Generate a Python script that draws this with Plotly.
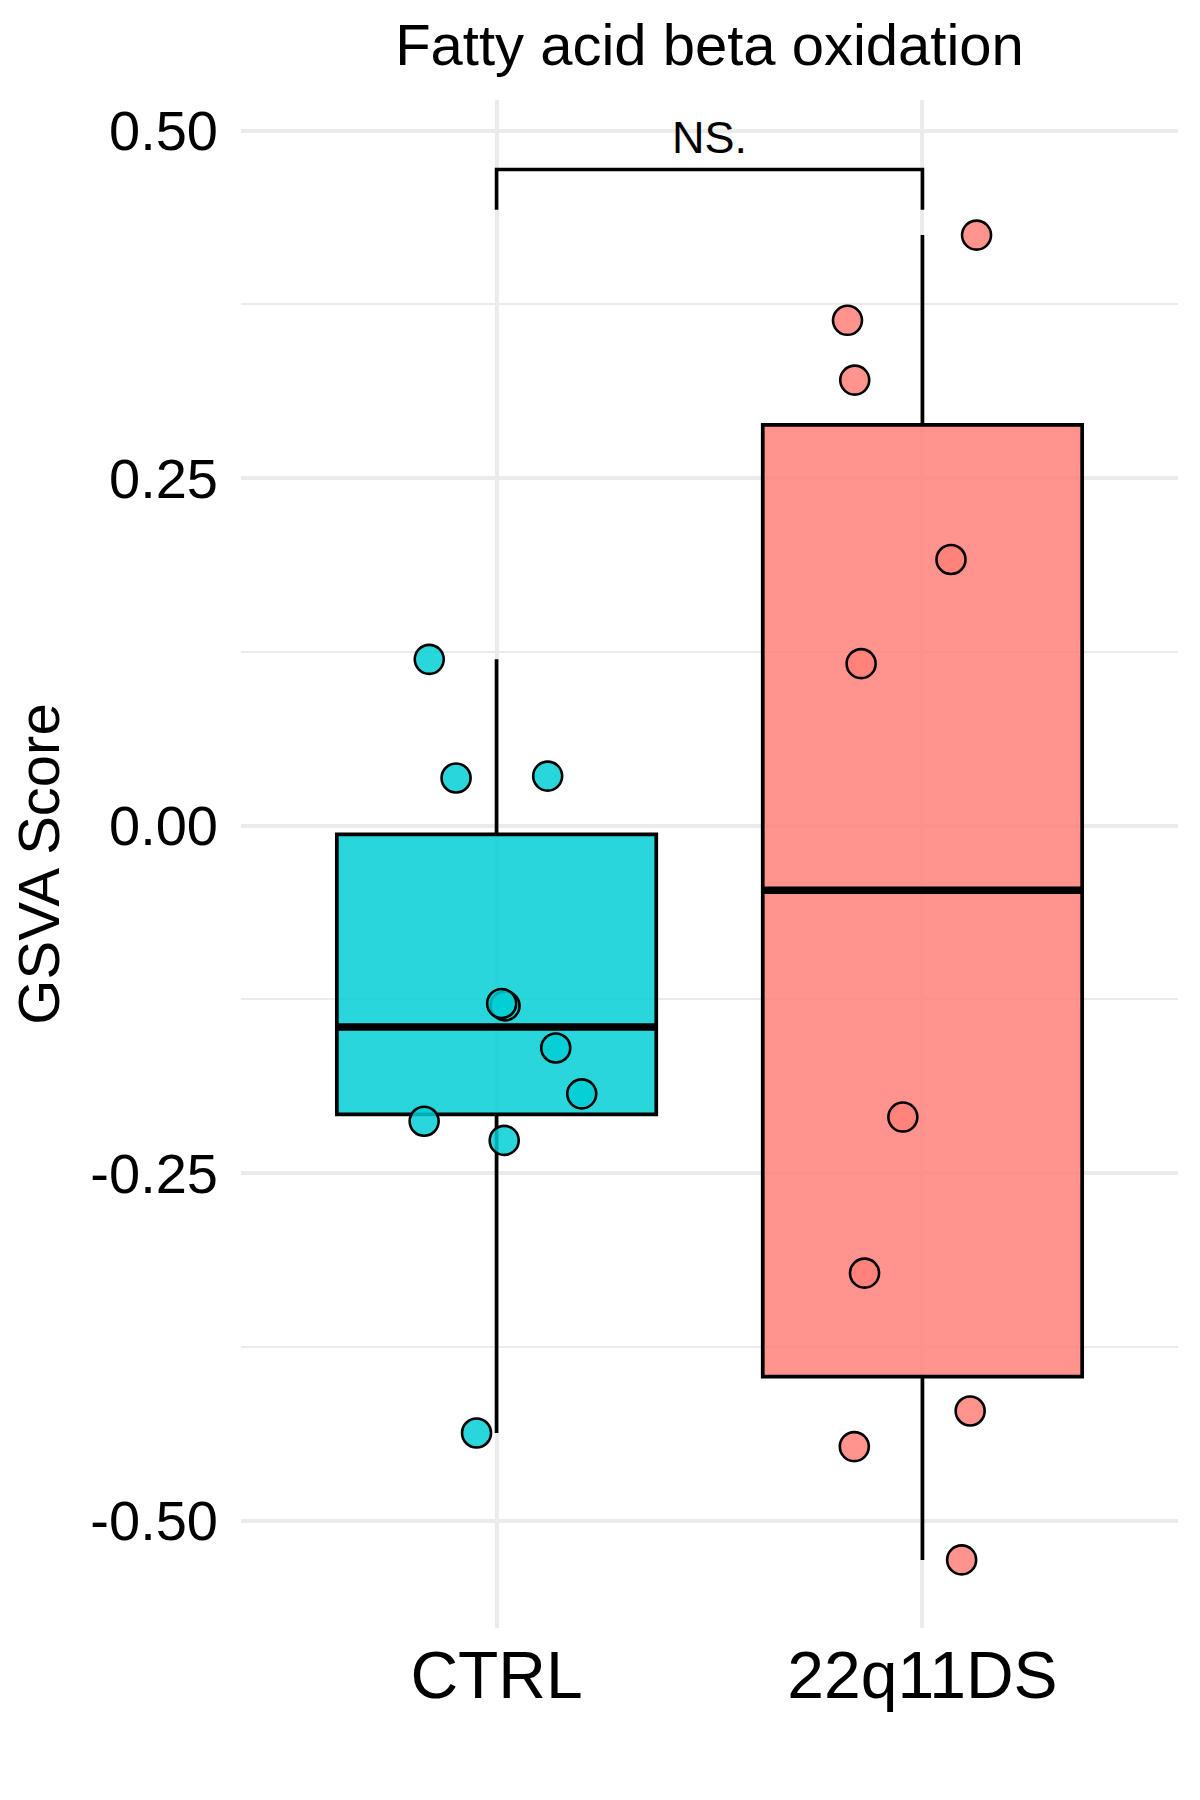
import numpy as np
import plotly.graph_objects as go

# ---- data ----
groups = ["CTRL", "22q11DS"]
group_pos = [1, 2]
ctrl_scores = [0.1196, 0.0342, 0.0356, -0.1297, -0.1280, -0.1600, -0.1930, -0.2127, -0.2265, -0.4370]
ctrl_jitter = [-0.158, -0.095, 0.120, 0.020, 0.012, 0.139, 0.200, -0.170, 0.018, -0.047]
ds_scores = [0.4248, 0.3635, 0.3205, 0.1914, 0.1165, -0.2097, -0.3220, -0.4212, -0.4468, -0.5283]
ds_jitter = [0.127, -0.176, -0.159, 0.067, -0.144, -0.046, -0.136, 0.112, -0.160, 0.092]
y_ticks = [-0.50, -0.25, 0.00, 0.25, 0.50]
y_tick_labels = ["-0.50", "-0.25", "0.00", "0.25", "0.50"]
bracket_y = 0.472
bracket_tip_y = 0.443
sig_label = "NS."
title_text = "Fatty acid beta oxidation"
y_title = "GSVA Score"

fills = ["rgba(0,206,212,0.84)", "rgba(255,126,119,0.84)"]
FONT = "Liberation Sans, Arial, sans-serif"
BOX_W = 0.75

fig = go.Figure()

all_scores = [ctrl_scores, ds_scores]
all_jitter = [ctrl_jitter, ds_jitter]

# boxes (stats computed like ggplot: type-7 quantiles, 1.5 IQR whiskers)
for pos, sc, fc in zip(group_pos, all_scores, fills):
    a = np.array(sc)
    q1, med, q3 = np.percentile(a, [25, 50, 75])
    iqr = q3 - q1
    lo = a[a >= q1 - 1.5 * iqr].min()
    hi = a[a <= q3 + 1.5 * iqr].max()
    fig.add_trace(go.Box(
        x=[pos], q1=[q1], median=[med], q3=[q3], lowerfence=[lo], upperfence=[hi],
        width=BOX_W, fillcolor=fc, line=dict(color="black", width=3.7),
        whiskerwidth=0, boxpoints=False, showlegend=False, hoverinfo="skip",
    ))
    # thicker median line (ggplot fatten)
    fig.add_trace(go.Scatter(
        x=[pos - BOX_W / 2, pos + BOX_W / 2], y=[med, med], mode="lines",
        line=dict(color="black", width=7.5), showlegend=False, hoverinfo="skip",
    ))

# jittered points
for pos, sc, jt, fc in zip(group_pos, all_scores, all_jitter, fills):
    fig.add_trace(go.Scatter(
        x=[pos + j for j in jt], y=sc, mode="markers",
        marker=dict(size=29, color=fc, line=dict(color="black", width=2.6)),
        showlegend=False, hoverinfo="skip",
    ))

# significance bracket
fig.add_trace(go.Scatter(
    x=[group_pos[0], group_pos[0], group_pos[1], group_pos[1]],
    y=[bracket_tip_y, bracket_y, bracket_y, bracket_tip_y],
    mode="lines", line=dict(color="black", width=3.6),
    showlegend=False, hoverinfo="skip",
))
fig.add_annotation(
    x=(group_pos[0] + group_pos[1]) / 2, y=bracket_y, xref="x", yref="y",
    text=sig_label, showarrow=False, yanchor="bottom", yshift=5,
    font=dict(family=FONT, size=45, color="black"),
)

fig.update_layout(
    width=1200, height=1800,
    margin=dict(l=241, r=22, t=100, b=172),
    plot_bgcolor="white", paper_bgcolor="white",
    font=dict(family=FONT, color="black"),
    title=dict(text=title_text, x=(241 + 1178) / 2 / 1200, xanchor="center",
               y=1 - 45 / 1800, yanchor="middle", yref="container",
               font=dict(family=FONT, size=58, color="black")),
    xaxis=dict(
        range=[0.4, 2.6], tickvals=group_pos, ticktext=groups,
        showgrid=True, gridcolor="#EBEBEB", gridwidth=3.5,
        zeroline=False, showline=False, ticks="",
        tickfont=dict(family=FONT, size=66, color="black"),
        ticklabelstandoff=3,
    ),
    yaxis=dict(
        range=[-0.5773, 0.522], tickvals=y_ticks, ticktext=y_tick_labels,
        showgrid=True, gridcolor="#EBEBEB", gridwidth=4,
        minor=dict(tickvals=[-0.375, -0.125, 0.125, 0.375], showgrid=True,
                   gridcolor="#EBEBEB", gridwidth=2.3),
        zeroline=False, showline=False, ticks="",
        tickfont=dict(family=FONT, size=56, color="black"),
        ticklabelstandoff=22,
        title=dict(text=y_title, font=dict(family=FONT, size=58, color="black"),
                   standoff=12),
    ),
)

fig.write_html("out.html")
